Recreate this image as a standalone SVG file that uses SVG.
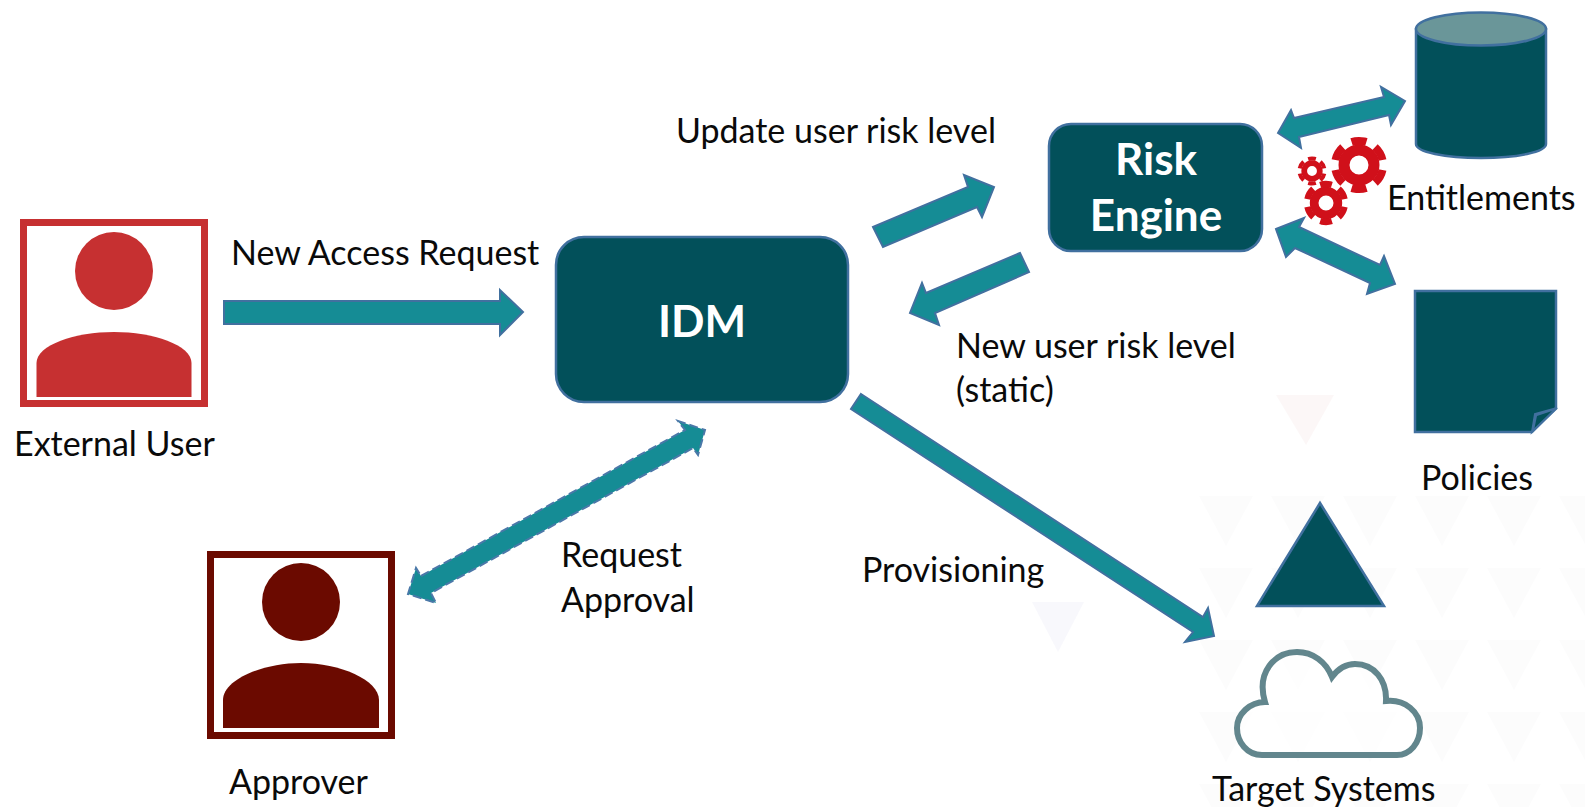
<svg xmlns="http://www.w3.org/2000/svg" width="1585" height="807" viewBox="0 0 1585 807">
<style>
.t{font-family:"Lato","Open Sans","Liberation Sans",sans-serif;font-size:34px;fill:#0a0a0a}
.b{font-family:"Lato","Open Sans","Liberation Sans",sans-serif;font-weight:700;font-size:44px;fill:#fff;text-anchor:middle}
.n{fill:#02505a;stroke:#41709f;stroke-width:2.5}
.a{fill:#158c95;stroke:#41709f;stroke-width:2;stroke-linejoin:miter}
.d{fill:#158c95;stroke:#4a78a8;stroke-width:2;stroke-dasharray:9 4}
</style>
<defs>
<pattern id="tri" x="1190" y="490" width="72" height="72" patternUnits="userSpaceOnUse">
<path d="M9 6H63L36 56Z" fill="#f5f5f6"/>
</pattern>
<g id="gear">
<circle r="15" fill="none" stroke="#d0101a" stroke-width="11"/>
<circle r="24" fill="none" stroke="#d0101a" stroke-width="8" pathLength="60" stroke-dasharray="6 4" transform="rotate(12)"/>
</g>
</defs>
<rect width="1585" height="807" fill="#fff"/>
<g id="background" opacity="0.3">
<rect x="1190" y="490" width="395" height="317" fill="url(#tri)"/>
</g>
<g opacity="0.7">
<path d="M1276 395H1334L1306 445Z" fill="#fbf3f4"/>
<path d="M1032 602H1084L1058 652Z" fill="#f5f5fb"/>
</g>
<g id="connectors">
<polygon class="a" points="224,301 500,301 500,290 523,312 500,335 500,324 224,324"/>
<polygon class="a" points="873,227 968,187 964,175 994,187 982,217 977,207 883,247"/>
<polygon class="a" points="1020,253 926,293 922,283 910,313 939,325 935,313 1029,272"/>
<polygon class="a" points="861,394 1203,617 1208,608 1214,636 1185,642 1193,632 851,409"/>
<polygon class="d" points="421,576 685,430 678,421 705,430 698,455 693,448 431,593 436,603 408,594 416,568"/>
<polygon class="a" points="1278,133 1291,110 1294,118 1384,97 1381,87 1405,101 1391,125 1389,115 1299,137 1301,148"/>
<polygon class="a" points="1276,229 1304,218 1299,227 1380,265 1384,256 1395,284 1367,294 1370,283 1295,248 1286,257"/>
</g>
<g id="external-user">
<rect x="23.500" y="222.500" width="181" height="181" fill="#fff" stroke="#c63031" stroke-width="7"/>
<circle cx="114" cy="271" r="39" fill="#c63031"/>
<path d="M36.500 397V363C36.500 345 75 332 114 332S191.500 345 191.500 363V397Z" fill="#c63031"/>
<text class="t" x="14" y="456">External User</text>
</g>
<g id="approver">
<rect x="210.500" y="554.500" width="181" height="181" fill="#fff" stroke="#6b0a00" stroke-width="7"/>
<circle cx="301" cy="602" r="39" fill="#6b0a00"/>
<path d="M223 728V700C223 680 262 663 301 663S379 680 379 700V728Z" fill="#6b0a00"/>
<text class="t" x="229" y="794">Approver</text>
</g>
<g id="idm">
<rect class="n" x="556" y="237" width="292" height="165" rx="28"/>
<text class="b" x="702" y="337">IDM</text>
</g>
<g id="risk-engine">
<rect class="n" x="1049" y="124" width="213" height="127" rx="22"/>
<text class="b" x="1156" y="175">Risk</text>
<text class="b" x="1156" y="231">Engine</text>
</g>
<g id="entitlements">
<path class="n" d="M1416 29V144C1416 152 1445 158 1481 158S1546 152 1546 144V29Z"/>
<ellipse cx="1481" cy="29" rx="65" ry="16.500" fill="#6a9699" stroke="#41709f" stroke-width="2.500"/>
<text class="t" x="1387" y="210">Entitlements</text>
</g>
<g id="gears">
<use href="#gear" transform="translate(1359 165)"/>
<use href="#gear" transform="translate(1326 203) scale(.79)"/>
<use href="#gear" transform="translate(1312 171) scale(.52)"/>
</g>
<g id="policies">
<path class="n" d="M1415 291V432H1532L1556 408V291Z"/>
<path d="M1557 408L1535 414L1532 432Z" fill="#41709f" stroke="#41709f" stroke-width="2"/>
<path d="M1552 411L1537 416L1534.500 428Z" fill="#02505a"/>
<text class="t" x="1421" y="490">Policies</text>
</g>
<g id="target-systems">
<polygon class="n" points="1320,503 1257,606 1384,606"/>
<path d="M1262 755C1247 755 1237 742 1237 728C1237 714 1250 702 1265 702C1256 672 1275 652 1297 652C1313 652 1326 662 1332 677C1338 669 1346 664 1355 664C1374 664 1387 680 1386 701C1405 699 1420 712 1420 728C1420 743 1410 755 1397 755Z" fill="#fff" fill-opacity=".5" stroke="#62868d" stroke-width="6"/>
<text class="t" x="1212" y="801">Target Systems</text>
</g>
<g id="labels">
<text class="t" x="231" y="265">New Access Request</text>
<text class="t" x="676" y="143">Update user risk level</text>
<text class="t" x="956" y="358">New user risk level</text>
<text class="t" x="956" y="402">(static)</text>
<text class="t" x="561" y="567">Request</text>
<text class="t" x="561" y="612">Approval</text>
<text class="t" x="862" y="582">Provisioning</text>
</g>
</svg>
